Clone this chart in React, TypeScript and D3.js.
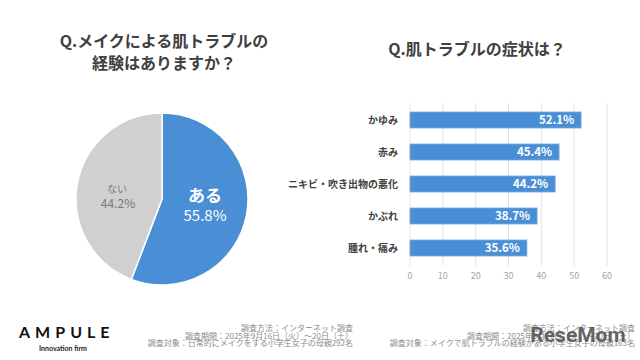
import React from 'react';
import * as d3 from 'd3';

// pie data
const pieLabels = ['ある', 'ない'];
const pieValues = [55.8, 44.2];
const pieColors = ['#4a8fd6', '#d0d0d0'];

// bar data
const barCategories = ['かゆみ', '赤み', 'ニキビ・吹き出物の悪化', 'かぶれ', '腫れ・痛み'];
const barValues = [52.1, 45.4, 44.2, 38.7, 35.6];
const barTicks = [0, 10, 20, 30, 40, 50, 60];

const footLeft = [
  '調査方法：インターネット調査',
  '調査期間：2025年9月16日（火）～20日（土）',
  '調査対象：日常的にメイクをする小学生女子の母親292名',
];
const footRight = [
  '調査方法：インターネット調査',
  '調査期間：2025年9月16日（火）～20日（土）',
  '調査対象：メイクで肌トラブルの経験がある小学生女子の母親163名',
];

const FONT = '"Noto Sans CJK JP", "Noto Sans", sans-serif';

const App = () => {
  const W = 640;
  const H = 360;

  // pie
  const cx = 162;
  const cy = 199;
  const r = 86;
  const pie = d3.pie<number>().sort(null)(pieValues);
  const arc = d3.arc<d3.PieArcDatum<number>>().innerRadius(0).outerRadius(r);

  // bars
  const x = d3.scaleLinear().domain([0, 60]).range([410, 607]);
  const y = d3.scaleBand().domain(barCategories).range([104, 264]).paddingInner(0.5).paddingOuter(0.25);

  return (
    <div style={{ position: 'absolute', left: 0, top: 0 }}>
      <svg width={W} height={H} style={{ display: 'block', fontFamily: FONT }}>
        <rect width={W} height={H} fill="#ffffff" />

        {/* titles */}
        <text x={164} y={47} textAnchor="middle" fontSize={16} fontWeight="bold" fill="#404040">
          Q.メイクによる肌トラブルの
        </text>
        <text x={164} y={69} textAnchor="middle" fontSize={16} fontWeight="bold" fill="#404040">
          経験はありますか？
        </text>
        <text x={477} y={55} textAnchor="middle" fontSize={16} fontWeight="bold" fill="#404040">
          Q.肌トラブルの症状は？
        </text>

        {/* pie */}
        <g transform={`translate(${cx},${cy})`}>
          {pie.map((d, i) => (
            <path key={i} d={arc(d) || ''} fill={pieColors[i]} stroke="#ffffff" strokeWidth={1.5} />
          ))}
        </g>
        <text x={205} y={202} textAnchor="middle" fontSize={17} fontWeight="bold" fill="#ffffff">
          {pieLabels[0]}
        </text>
        <text x={205} y={221} textAnchor="middle" fontSize={15} fill="#ffffff">
          {pieValues[0].toFixed(1)}%
        </text>
        <text x={117} y={193} textAnchor="middle" fontSize={10} fill="#7a7a7a">
          {pieLabels[1]}
        </text>
        <text x={118} y={208} textAnchor="middle" fontSize={12} fill="#7a7a7a">
          {pieValues[1].toFixed(1)}%
        </text>

        {/* bar grid */}
        {barTicks.map((t) => (
          <g key={t}>
            <line x1={x(t)} x2={x(t)} y1={103} y2={266} stroke="#e3e3e3" strokeWidth={1} />
            <text x={x(t)} y={279} textAnchor="middle" fontSize={9} fill="#a6a6a6">
              {t}
            </text>
          </g>
        ))}
        {barCategories.map((c, i) => (
          <g key={c}>
            <rect
              x={x(0)}
              y={y(c)}
              width={x(barValues[i]) - x(0)}
              height={y.bandwidth()}
              fill="#4a8fd6"
              stroke="#74a9e0"
              strokeWidth={0.8}
            />
            <text x={398} y={(y(c) || 0) + y.bandwidth() / 2 + 3.5} textAnchor="end" fontSize={10} fontWeight="bold" fill="#404040">
              {c}
            </text>
            <text
              x={x(barValues[i]) - 7}
              y={(y(c) || 0) + y.bandwidth() / 2 + 4}
              textAnchor="end"
              fontSize={11.5}
              fontWeight="bold"
              fill="#ffffff"
            >
              {barValues[i].toFixed(1)}%
            </text>
          </g>
        ))}

        {/* footer */}
        <text x={19} y={338} fontFamily="Lato, sans-serif" fontSize={16} fontWeight="bold" letterSpacing={5} fill="#111111">
          AMPULE
        </text>
        <text x={63} y={351} textAnchor="middle" fontFamily="Lato, sans-serif" fontSize={7} fontWeight="bold" fill="#222222">
          Innovation firm
        </text>
        {footLeft.map((s, i) => (
          <text key={i} x={353} y={331 + i * 7.7} textAnchor="end" fontSize={8} fill="#8a8a8a">
            {s}
          </text>
        ))}
        {footRight.map((s, i) => (
          <text key={i} x={635} y={331 + i * 7.7} textAnchor="end" fontSize={8} fill="#8a8a8a">
            {s}
          </text>
        ))}
        <text x={578} y={342} textAnchor="middle" fontFamily="Roboto, sans-serif" fontSize={21} fontWeight="bold" fill="#4d4d4d" opacity={0.85}>
          ReseMom
        </text>
      </svg>
    </div>
  );
};

export default App;
